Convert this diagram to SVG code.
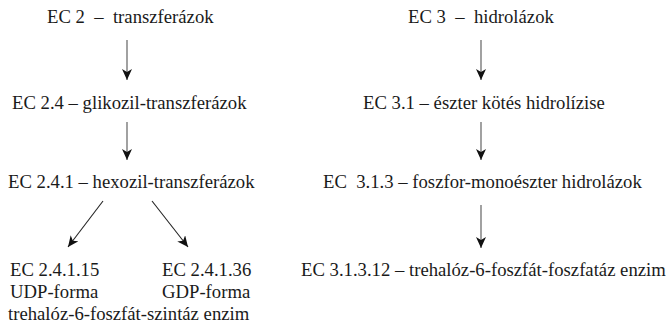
<svg xmlns="http://www.w3.org/2000/svg" width="671" height="323" viewBox="0 0 671 323">
  <style>
    .lbl { font-family: "Liberation Serif", "Times New Roman", serif; font-size: 18.7px; fill: #1a1a1a; white-space: pre; }
    .edge { stroke: #555; stroke-width: 1.1; fill: none; }
    .diag { stroke: #222; stroke-width: 1.1; fill: none; }
  </style>
  <defs>
    <marker id="head" viewBox="0 0 11 10" refX="11" refY="5" markerWidth="11" markerHeight="10" markerUnits="userSpaceOnUse" orient="auto">
      <path d="M0,0 L11,5 L0,10 L3,5 Z" fill="#111"/>
    </marker>
  </defs>

  <rect width="671" height="323" fill="#fff"/>

  <!-- EC 2 branch -->
  <g id="ec2"><text class="lbl" x="47" y="23">EC 2  –  transzferázok</text></g>
  <g id="ec2-4"><text class="lbl" x="12" y="109">EC 2.4 – glikozil-transzferázok</text></g>
  <g id="ec2-4-1"><text class="lbl" x="8" y="188">EC 2.4.1 – hexozil-transzferázok</text></g>
  <g id="ec2-4-1-15">
    <text class="lbl" x="10" y="276">EC 2.4.1.15</text>
    <text class="lbl" x="10" y="298">UDP-forma</text>
  </g>
  <g id="ec2-4-1-36">
    <text class="lbl" x="162" y="276">EC 2.4.1.36</text>
    <text class="lbl" x="162" y="298">GDP-forma</text>
  </g>
  <g id="tps"><text class="lbl" x="8" y="320">trehalóz-6-foszfát-szintáz enzim</text></g>

  <!-- EC 3 branch -->
  <g id="ec3"><text class="lbl" x="408" y="23">EC 3  –  hidrolázok</text></g>
  <g id="ec3-1"><text class="lbl" x="363" y="109">EC 3.1 – észter kötés hidrolízise</text></g>
  <g id="ec3-1-3"><text class="lbl" x="323" y="188">EC  3.1.3 – foszfor-monoészter hidrolázok</text></g>
  <g id="ec3-1-3-12"><text class="lbl" x="301" y="276">EC 3.1.3.12 – trehalóz-6-foszfát-foszfatáz enzim</text></g>

  <!-- connectors -->
  <g id="connectors">
    <line class="edge" x1="127" y1="40" x2="127" y2="80" marker-end="url(#head)"/>
    <line class="edge" x1="127" y1="122" x2="127" y2="160" marker-end="url(#head)"/>
    <line class="diag" x1="103" y1="201" x2="68" y2="247" marker-end="url(#head)"/>
    <line class="diag" x1="152" y1="201" x2="188" y2="247" marker-end="url(#head)"/>
    <line class="edge" x1="481" y1="40" x2="481" y2="80" marker-end="url(#head)"/>
    <line class="edge" x1="481" y1="122" x2="481" y2="160" marker-end="url(#head)"/>
    <line class="edge" x1="481" y1="205" x2="481" y2="248" marker-end="url(#head)"/>
  </g>
</svg>
